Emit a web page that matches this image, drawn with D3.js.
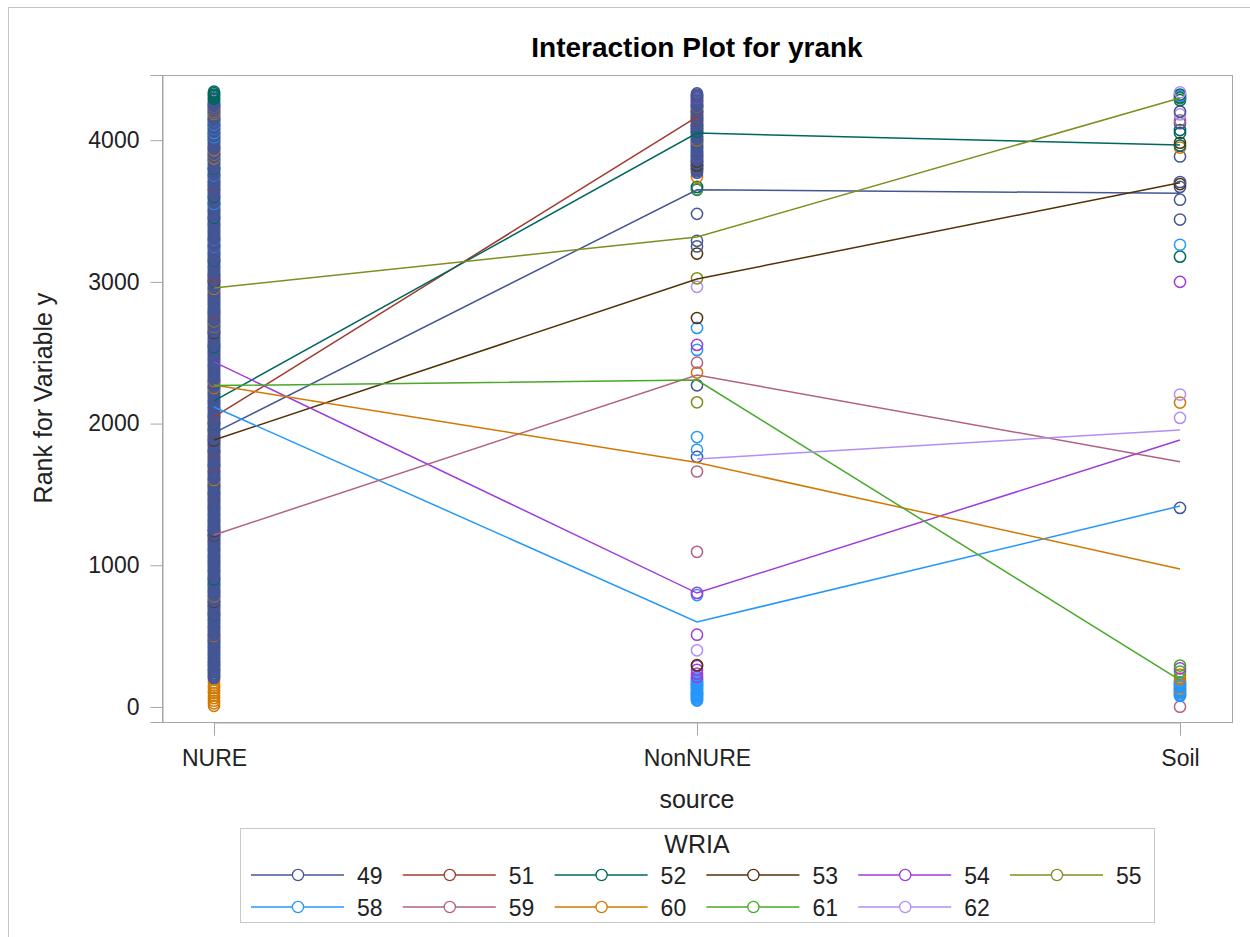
<!DOCTYPE html>
<html><head><meta charset="utf-8">
<script src="https://cdn.jsdelivr.net/npm/d3@7"></script>
<style>body{margin:0;background:#fff;} text{font-family:"Liberation Sans",Arial,sans-serif;}</style>
</head><body>
<svg id="c" width="1250" height="937"></svg>
<script>
const sources = ["NURE", "NonNURE", "Soil"];
const wrias = ["49","51","52","53","54","55","58","59","60","61","62"];
const colors = ["#445694","#A23A2E","#01665E","#543005","#9D3CDB","#7F8E1F","#2597FA","#B26084","#D17800","#47A82A","#B38EF3"];
const yTicks = [0, 1000, 2000, 3000, 4000];

// Mean rank per WRIA at each source (null = no observations)
const meanNURE    = [1934, 2047, 2160, 1884, 2435, 2957, 2117, 1214, 2272, 2268, null];
const meanNonNURE = [3650, 4165, 4050, 3020,  804, 3317,  600, 2343, 1725, 2307, 1750];
const meanSoil    = [3625, null, 3966, 3700, 1884, 4298, 1418, 1730,  974,  190, 1955];

// Individual ranks: WRIA 49 at NURE (dense column)
const nure49 = [205,213,221,229,236,245,254,262,270,278,287,294,301,310,319,327,336,343,350,359,368,376,385,392,399,408,417,425,434,442,450,458,466,474,483,491,499,507,516,524,533,540,548,557,566,574,582,590,598,606,615,623,632,639,647,655,664,672,681,689,697,705,713,721,730,738,746,754,763,771,779,787,796,804,812,820,829,837,845,853,861,869,878,886,894,902,911,919,927,935,944,952,960,968,977,985,993,1001,1009,1017,1026,1034,1042,1050,1059,1067,1075,1083,1092,1100,1108,1116,1125,1133,1141,1149,1157,1165,1174,1182,1190,1198,1207,1215,1223,1231,1240,1248,1256,1264,1273,1281,1289,1297,1305,1313,1322,1330,1338,1346,1355,1363,1371,1379,1388,1396,1404,1412,1421,1429,1437,1445,1453,1461,1470,1478,1486,1494,1503,1511,1519,1527,1536,1544,1552,1560,1569,1577,1585,1593,1601,1609,1618,1626,1634,1642,1651,1659,1667,1675,1684,1692,1700,1708,1717,1725,1733,1741,1749,1757,1766,1774,1782,1790,1799,1807,1815,1823,1832,1840,1848,1856,1865,1873,1881,1889,1897,1905,1914,1922,1930,1938,1947,1955,1963,1971,1980,1988,1996,2004,2013,2021,2029,2037,2045,2053,2062,2070,2078,2086,2095,2103,2111,2119,2128,2136,2144,2152,2161,2169,2177,2185,2193,2201,2210,2218,2226,2234,2243,2251,2259,2267,2276,2284,2292,2300,2309,2317,2325,2333,2341,2349,2358,2366,2374,2382,2391,2399,2407,2415,2424,2432,2440,2448,2457,2465,2473,2481,2489,2497,2506,2514,2522,2530,2539,2547,2555,2563,2572,2580,2588,2596,2605,2613,2621,2629,2637,2645,2654,2662,2670,2678,2687,2695,2703,2711,2720,2728,2736,2744,2753,2761,2769,2777,2785,2793,2802,2810,2818,2826,2835,2843,2851,2859,2868,2876,2884,2892,2901,2909,2917,2925,2933,2941,2950,2958,2966,2974,2983,2991,2999,3007,3016,3024,3032,3040,3049,3057,3065,3073,3081,3089,3098,3106,3114,3122,3131,3139,3147,3155,3164,3172,3180,3188,3197,3205,3213,3221,3229,3237,3246,3254,3262,3270,3279,3287,3295,3303,3312,3320,3328,3336,3345,3353,3361,3369,3377,3385,3394,3402,3410,3418,3427,3435,3443,3451,3460,3468,3476,3484,3493,3501,3509,3517,3525,3533,3542,3550,3558,3566,3575,3583,3591,3599,3608,3616,3624,3632,3641,3649,3657,3665,3673,3681,3690,3698,3706,3714,3723,3731,3739,3747,3756,3764,3772,3780,3789,3797,3805,3813,3821,3829,3838,3846,3854,3862,3871,3879,3887,3895,3904,3912,3920,3928,3937,3945,3953,3961,3969,3977,3986,3994,4002,4010,4019,4027,4035,4043,4052,4060,4068,4076,4085,4093,4101,4109,4117,4125,4134,4142,4150,4158,4167,4175,4183,4191,4200,4208,4216,4224,4233,4241,4249,4257,4265,4273,4282];
// Other WRIA ranks at NURE: [wria, rank]
const nureOther = [["52",4342],["52",4332],["52",4322],["52",4312],["52",4302],["52",4292],
  ["60",4240],["60",4222],["60",4204],["60",4186],["58",4140],["58",4112],["58",4082],["58",4052],["58",4022],
  ["60",3930],["60",3900],["60",3872],["52",3800],["58",3752],["51",3680],["52",3600],["58",3552],["52",3452],
  ["58",3300],["58",3250],["52",3150],["51",3040],["53",3005],["60",2952],["51",2780],["60",2722],["60",2684],
  ["53",2640],["52",2540],["60",2302],["60",2252],["51",2050],["52",2002],["51",1952],["53",1882],["51",1802],
  ["51",1702],["60",1602],["51",1502],["53",1242],["53",1212],["52",902],["60",782],["53",742],["52",652],["60",502],
  ["60",192],["60",172],["60",152],["60",134],["60",116],["60",98],["60",80],["60",62],["60",44],["60",26],["60",8]];

// WRIA 49 at NonNURE (dense top block) and other ranks
const nonnure49 = [3770,3780,3790,3798,3805,3814,3822,3831,3840,3849,3858,3866,3875,3884,3893,3901,3910,3919,3928,3936,3945,3954,3962,3971,3980,3989,3998,4006,4015,4024,4032,4041,4050,4059,4068,4076,4085,4094,4102,4111,4120,4129,4138,4146,4155,4164,4172,4181,4190,4199,4208,4216,4225,4234,4242,4251,4260,4269,4278,4286,4295,4304,4312,4321,4330,3650,3480,3290,3250,2270,1765];
const nonnureOther = [["54",4300],["60",4240],["51",4200],["51",4150],["52",4100],["52",4080],["52",4060],["60",4000],
  ["54",3890],["53",3850],["53",3822],["60",3740],["52",3670],["61",3655],["53",3200],["55",3025],["62",2965],
  ["53",2745],["58",2675],["54",2555],["58",2520],["59",2430],["60",2360],["55",2150],["58",1905],["58",1815],
  ["59",1662],["59",1095],["54",805],["58",790],["54",510],["62",400],["53",295],["54",288],["54",262],["54",236],
  ["54",212],["58",200],["58",190],["58",180],["58",172],["58",164],["58",156],["58",148],["58",140],["58",132],
  ["58",124],["58",116],["58",108],["58",100],["58",92],["58",84],["58",76],["58",68],["58",60],["58",52],["58",45]];

// Ranks at Soil
const soilPoints = [["59",2],["58",78],["58",86],["58",95],["58",104],["58",112],["58",120],["60",130],["58",140],["58",149],
  ["58",158],["58",167],["58",176],["60",200],["60",228],["61",250],["54",272],["61",292],["49",1405],["62",2040],["60",2148],
  ["62",2205],["54",3000],["52",3178],["58",3262],["49",3440],["49",3580],["49",3670],["53",3690],["49",3705],["49",3885],
  ["60",3948],["52",3962],["53",3982],["52",4050],["52",4072],["49",4120],["59",4140],["62",4182],["49",4202],["52",4282],
  ["55",4295],["52",4302],["58",4312],["52",4322],["62",4338]];

const svg = d3.select("#c");
const FONT = '"Liberation Sans",Arial,sans-serif';
const colorOf = d3.scaleOrdinal().domain(wrias).range(colors);
const x = d3.scalePoint().domain(sources).range([214, 1180]);
const y = d3.scaleLinear().domain([-106, 4460]).range([722, 75]);

// outer page frame
svg.append("line").attr("x1",8).attr("x2",1250).attr("y1",7.5).attr("y2",7.5).attr("stroke","#c4c4c4");
svg.append("line").attr("x1",8.5).attr("x2",8.5).attr("y1",7).attr("y2",937).attr("stroke","#c4c4c4");

// title
svg.append("text").attr("x",697).attr("y",57).attr("text-anchor","middle")
  .attr("font-size",28).attr("font-weight","bold").attr("fill","#000").text("Interaction Plot for yrank");

// plot frame
svg.append("rect").attr("x",162.5).attr("y",75.5).attr("width",1070).attr("height",647)
  .attr("fill","none").attr("stroke","#a6a6a6");

// axes
const yAxis = svg.append("g").attr("transform","translate(162.5,0)")
  .call(d3.axisLeft(y).tickValues(yTicks).tickSize(12).tickPadding(11).tickFormat(d3.format("d")));
const xAxis = svg.append("g").attr("transform","translate(0,722.5)")
  .call(d3.axisBottom(x).tickSize(13).tickPadding(14));
[yAxis, xAxis].forEach(a => {
  a.select(".domain").attr("stroke","#a6a6a6");
  a.selectAll(".tick line").attr("stroke","#a6a6a6");
  a.selectAll(".tick text").attr("font-size",23).attr("fill","#222").attr("font-family",FONT);
});

// axis labels
svg.append("text").attr("transform","translate(52,398) rotate(-90)").attr("text-anchor","middle")
  .attr("font-size",25).attr("fill","#222").text("Rank for Variable y");
svg.append("text").attr("x",697).attr("y",808).attr("text-anchor","middle")
  .attr("font-size",25).attr("fill","#222").text("source");

// points
const pts = [];
nure49.forEach(v => pts.push({s:"NURE", w:"49", v}));
nureOther.forEach(([w,v]) => pts.push({s:"NURE", w, v}));
nonnure49.forEach(v => pts.push({s:"NonNURE", w:"49", v}));
nonnureOther.forEach(([w,v]) => pts.push({s:"NonNURE", w, v}));
soilPoints.forEach(([w,v]) => pts.push({s:"Soil", w, v}));
pts.sort((a,b) => a.v - b.v);
svg.append("g").selectAll("circle").data(pts).join("circle")
  .attr("cx", d => x(d.s)).attr("cy", d => y(d.v)).attr("r",5.6)
  .attr("fill","none").attr("stroke", d => colorOf(d.w)).attr("stroke-width",1.5);

// mean lines
const line = d3.line().x(d => x(d.s)).y(d => y(d.v));
wrias.forEach((w,i) => {
  const series = [{s:"NURE",v:meanNURE[i]},{s:"NonNURE",v:meanNonNURE[i]},{s:"Soil",v:meanSoil[i]}].filter(d => d.v != null);
  svg.append("path").datum(series).attr("d", line).attr("fill","none")
    .attr("stroke", colors[i]).attr("stroke-width",1.5);
});

// legend
const lg = svg.append("g");
lg.append("rect").attr("x",240.5).attr("y",828.5).attr("width",914).attr("height",94)
  .attr("fill","#fff").attr("stroke","#c8c8c8");
lg.append("text").attr("x",697).attr("y",853).attr("text-anchor","middle")
  .attr("font-size",25).attr("fill","#222").text("WRIA");
wrias.forEach((w,i) => {
  const col = i % 6, row = Math.floor(i / 6);
  const x0 = 251 + col * 151.8, yy = 875 + row * 32;
  const g = lg.append("g");
  g.append("line").attr("x1",x0).attr("x2",x0+93).attr("y1",yy).attr("y2",yy)
    .attr("stroke",colors[i]).attr("stroke-width",1.5);
  g.append("circle").attr("cx",x0+47).attr("cy",yy).attr("r",5.6)
    .attr("fill","#fff").attr("stroke",colors[i]).attr("stroke-width",1.3);
  g.append("text").attr("x",x0+106).attr("y",yy+8.5).attr("font-size",23).attr("fill","#222").text(w);
});
</script>
</body></html>
